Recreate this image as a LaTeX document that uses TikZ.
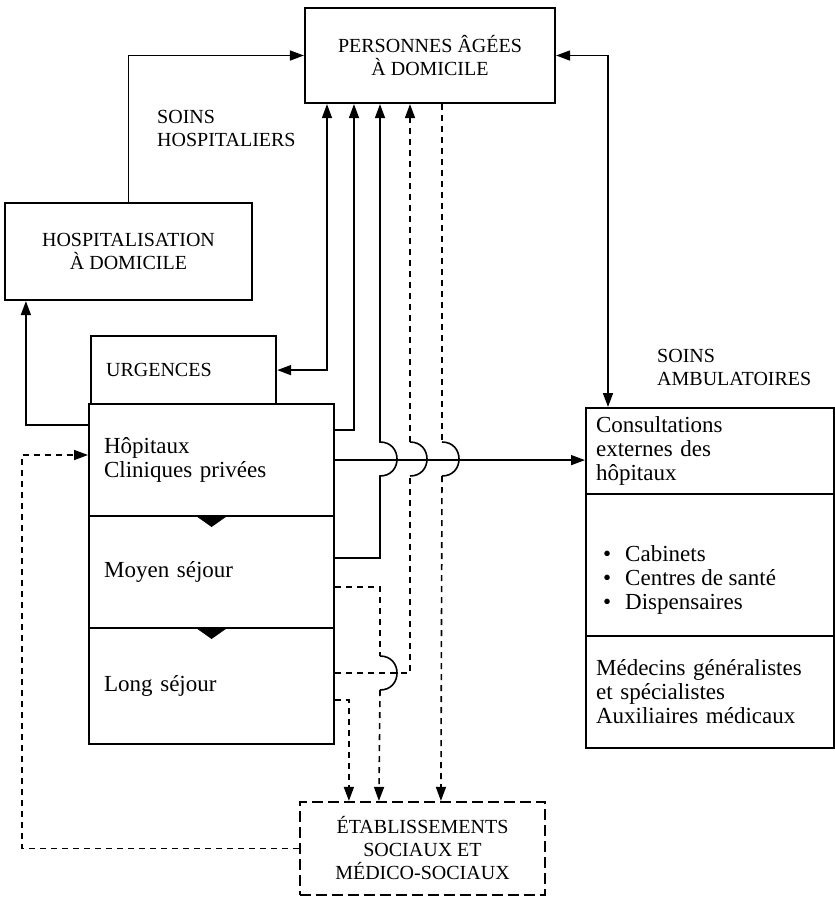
\documentclass[tikz,border=0pt]{standalone}
\usepackage{fontspec}
\setmainfont{Liberation Serif}
\usetikzlibrary{arrows.meta}

\newcommand{\capfont}{\fontsize{20}{23}\selectfont}
\newcommand{\txtfont}{\fontsize{23}{24}\selectfont}

\begin{document}
\begin{tikzpicture}
  [x=1pt,y=-1pt,>={Triangle[length=14pt,width=10pt]},
  box/.style={draw,line width=2.2pt,inner sep=0pt,font=\capfont,align=center},
  dbox/.style={box,dash pattern=on 11pt off 5pt},
  sec/.style={draw,line width=2.2pt,anchor=north west,inner xsep=15pt,inner ysep=0pt,font=\txtfont,align=left},
  conn/.style={line width=1.6pt},
  dconn/.style={line width=1.6pt,dash pattern=on 6pt off 5pt},
  lab/.style={anchor=west,align=left,font=\capfont,inner sep=0pt}]
  \useasboundingbox (0,0) rectangle (835,898);

  \node[box,minimum width=250pt,minimum height=95pt] (pad) at (430,55.5) {PERSONNES ÂGÉES\\À DOMICILE};
  \node[box,minimum width=247pt,minimum height=97pt] (had) at (128.5,251.5) {HOSPITALISATION\\À DOMICILE};

  \node[sec,font=\capfont,text width=155pt,minimum height=68pt] (urg) at (90,335) {URGENCES};
  \node[sec,text width=215pt,minimum height=112pt] (hop) at (88,403) {Hôpitaux\\Cliniques privées};
  \node[sec,text width=215pt,minimum height=112pt] (moy) at (88,515) {Moyen séjour};
  \node[sec,text width=215pt,minimum height=116pt] (lon) at (88,627) {Long séjour};
  \fill (moy.north) -- ++(-17,0) -- ++(17,12) -- ++(17,-12) -- cycle;
  \fill (lon.north) -- ++(-17,0) -- ++(17,12) -- ++(17,-12) -- cycle;

  \node[sec,inner xsep=10pt,text width=228pt,minimum height=86pt] (cons) at (585,407) {Consultations\\externes des\\hôpitaux};
  \node[sec,inner xsep=10pt,text width=228pt,minimum height=142pt] (cab) at (585,493) {};
  \node[lab,font=\txtfont] (cabtxt) at (603,580) {\textbullet\hspace{14pt}Cabinets\\\textbullet\hspace{14pt}Centres de santé\\\textbullet\hspace{14pt}Dispensaires};
  \node[sec,inner xsep=10pt,text width=228pt,minimum height=112pt] (med) at (585,635) {Médecins généralistes\\et spécialistes\\Auxiliaires médicaux};

  \node[dbox,minimum width=245pt,minimum height=93pt] (eta) at (422.5,848.5) {ÉTABLISSEMENTS\\SOCIAUX ET\\MÉDICO-SOCIAUX};

  \node[lab] (sh) at (157,128.5) {SOINS\\HOSPITALIERS};
  \node[lab] (sa) at (657,367) {SOINS\\AMBULATOIRES};

  \coordinate (p1) at ([xshift=-103pt]pad.south);
  \coordinate (p2) at ([xshift=-76pt]pad.south);
  \coordinate (p3) at ([xshift=-50pt]pad.south);
  \coordinate (p4) at ([xshift=-20pt]pad.south);
  \coordinate (p5) at ([xshift=12pt]pad.south);

  \draw[conn,->] (had.north) |- (pad.west);
  \draw[conn,<->] ([xshift=23pt]cons.north west) |- (pad.east);
  \draw[conn,<->] (urg.east) -| (p1);
  \draw[conn,->] ([yshift=-27pt]hop.north east) -| (p2);
  \draw[conn,->] ([yshift=-43pt]moy.north east) -| (380,476) .. controls +(22.7,0) and +(22.7,0) .. (380,442) -- (p3);
  \draw[conn,->] (hop.east) -- (hop.east -| cons.west);

  \draw[dconn] ([yshift=-46pt]lon.north east) -| (410,476);
  \draw[conn] (410,476) .. controls +(22.7,0) and +(22.7,0) .. (410,442);
  \draw[dconn,->] (410,442) -- (p4);

  \draw[dconn] (p5) -- (442,442);
  \draw[conn] (442,442) .. controls +(22.7,0) and +(22.7,0) .. (442,476);
  \draw[dconn,->] (442,476) -- ([xshift=142pt]eta.north west);

  \draw[dconn] ([yshift=-72pt]moy.north east) -| (380,656);
  \draw[conn] (380,656) .. controls +(22.7,0) and +(22.7,0) .. (380,690);
  \draw[dconn,->] (380,690) -- ([xshift=80pt]eta.north west);

  \draw[dconn,->] ([yshift=-73pt]lon.north east) -| ([xshift=50pt]eta.north west);

  \draw[conn,->] ([yshift=-22pt]hop.north west) -| ([xshift=22pt]had.south west);
  \draw[dconn,->] (eta.west) -| (22,455) -- ([yshift=-52pt]hop.north west);

\end{tikzpicture}
\end{document}
